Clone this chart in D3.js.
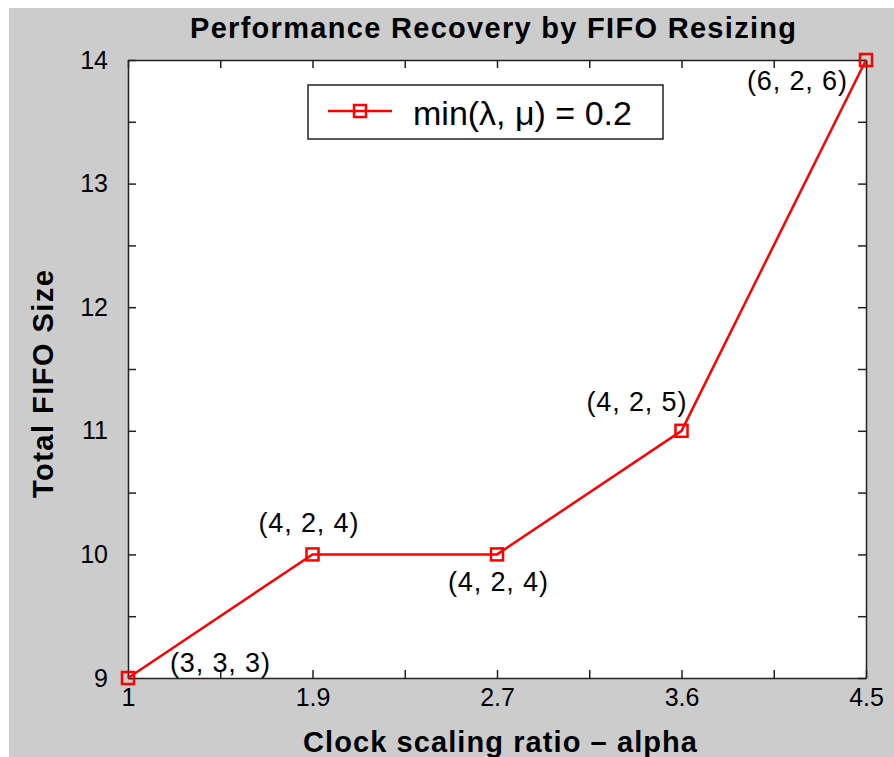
<!DOCTYPE html>
<html>
<head>
<meta charset="utf-8">
<script src="https://cdn.jsdelivr.net/npm/d3@7"></script>
<style>
  body { margin: 0; background: #fff; }
  svg { display: block; font-family: "Liberation Sans", Arial, sans-serif; }
  .axis path, .axis line { stroke: #222; stroke-width: 1.5; }
  .axis text { font-size: 25px; fill: #000; font-family: "Liberation Sans", Arial, sans-serif; }
</style>
</head>
<body>
<svg width="894" height="757"></svg>
<script>
// x positions are evenly spaced, labelled with the alpha values
const alphaLabels = ['1', '1.9', '2.7', '3.6', '4.5']
const fifoSize = [9, 10, 10, 11, 14]
const configs = ['(3, 3, 3)', '(4, 2, 4)', '(4, 2, 4)', '(4, 2, 5)', '(6, 2, 6)']
const yTicks = [9, 9.5, 10, 10.5, 11, 11.5, 12, 12.5, 13, 13.5, 14]
const seriesName = 'min(\u03bb, \u03bc) = 0.2'

// where each point's annotation sits, relative to the marker
const labelOffsets = [[92, -6], [-4, -22], [1, 37], [-45, -20], [-69, 30]]

const plot = {left: 128, right: 866, top: 60, bottom: 678}
const red = '#ff0000'

const svg = d3.select('svg')

svg.append('rect')
   .attr('x', 9).attr('y', 8)
   .attr('width', 885).attr('height', 749)
   .attr('fill', '#cccccc')

svg.append('rect')
   .attr('x', plot.left).attr('y', plot.top)
   .attr('width', plot.right - plot.left).attr('height', plot.bottom - plot.top)
   .attr('fill', '#fff')

const xScale = d3.scaleLinear()
                 .domain([0, alphaLabels.length - 1])
                 .range([plot.left, plot.right])
const yScale = d3.scaleLinear()
                 .domain([d3.min(yTicks), d3.max(yTicks)])
                 .range([plot.bottom, plot.top])

const xTicks = d3.range(0, alphaLabels.length - 0.99, 0.5)
const xFormat = d => Number.isInteger(d) ? alphaLabels[d] : ''
const yFormat = d => Number.isInteger(d) ? d : ''

svg.append('g').attr('class', 'axis')
   .attr('transform', `translate(0,${plot.bottom})`)
   .call(d3.axisBottom(xScale).tickValues(xTicks).tickFormat(xFormat)
           .tickSize(-8).tickSizeOuter(0).tickPadding(10))
svg.append('g').attr('class', 'axis')
   .attr('transform', `translate(0,${plot.top})`)
   .call(d3.axisTop(xScale).tickValues(xTicks).tickFormat('')
           .tickSize(-8).tickSizeOuter(0))
svg.append('g').attr('class', 'axis')
   .attr('transform', `translate(${plot.left},0)`)
   .call(d3.axisLeft(yScale).tickValues(yTicks).tickFormat(yFormat)
           .tickSize(-8).tickSizeOuter(0).tickPadding(20))
svg.append('g').attr('class', 'axis')
   .attr('transform', `translate(${plot.right},0)`)
   .call(d3.axisRight(yScale).tickValues(yTicks).tickFormat('')
           .tickSize(-8).tickSizeOuter(0))

svg.selectAll('.axis .domain').attr('stroke-width', 2)

const points = fifoSize.map((v, i) => ({i, v, label: configs[i], off: labelOffsets[i]}))

const line = d3.line()
               .x(d => xScale(d.i))
               .y(d => yScale(d.v))

svg.append('path')
   .datum(points)
   .attr('d', line)
   .attr('fill', 'none')
   .attr('stroke', red)
   .attr('stroke-width', 2.5)

svg.selectAll('.marker')
   .data(points)
   .enter()
   .append('rect')
   .classed('marker', true)
   .attr('x', d => xScale(d.i) - 6)
   .attr('y', d => yScale(d.v) - 6)
   .attr('width', 12)
   .attr('height', 12)
   .attr('fill', 'none')
   .attr('stroke', red)
   .attr('stroke-width', 2.5)

svg.selectAll('.pt-label')
   .data(points)
   .enter()
   .append('text')
   .classed('pt-label', true)
   .attr('x', d => xScale(d.i) + d.off[0])
   .attr('y', d => yScale(d.v) + d.off[1])
   .attr('text-anchor', 'middle')
   .attr('font-size', 27)
   .attr('textLength', 100)
   .attr('lengthAdjust', 'spacing')
   .text(d => d.label)

// titles
svg.append('text')
   .attr('x', 493).attr('y', 38)
   .attr('text-anchor', 'middle')
   .attr('font-size', 29).attr('font-weight', 'bold')
   .attr('textLength', 606).attr('lengthAdjust', 'spacing')
   .text('Performance Recovery by FIFO Resizing')

svg.append('text')
   .attr('x', 500).attr('y', 752)
   .attr('text-anchor', 'middle')
   .attr('font-size', 29).attr('font-weight', 'bold')
   .attr('textLength', 394).attr('lengthAdjust', 'spacing')
   .text('Clock scaling ratio \u2013 alpha')

svg.append('text')
   .attr('transform', 'translate(53,384) rotate(-90)')
   .attr('text-anchor', 'middle')
   .attr('font-size', 29).attr('font-weight', 'bold')
   .attr('textLength', 228).attr('lengthAdjust', 'spacing')
   .text('Total FIFO Size')

// legend
const legend = svg.append('g').attr('transform', 'translate(308,85)')
legend.append('rect')
      .attr('width', 355).attr('height', 54)
      .attr('fill', '#fff').attr('stroke', '#222').attr('stroke-width', 1.5)
legend.append('line')
      .attr('x1', 20).attr('x2', 84).attr('y1', 26).attr('y2', 26)
      .attr('stroke', red).attr('stroke-width', 2.5)
legend.append('rect')
      .attr('x', 46).attr('y', 20).attr('width', 12).attr('height', 12)
      .attr('fill', 'none').attr('stroke', red).attr('stroke-width', 2.5)
legend.append('text')
      .attr('x', 105).attr('y', 40)
      .attr('font-size', 34)
      .text(seriesName)
</script>
</body>
</html>
